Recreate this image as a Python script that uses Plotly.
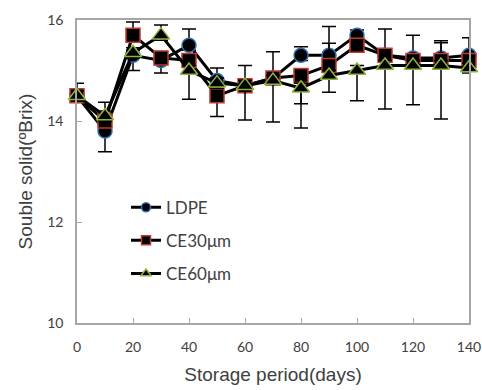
import plotly.graph_objects as go

days = [0, 10, 20, 30, 40, 50, 60, 70, 80, 90, 100, 110, 120, 130, 140]
ldpe = [14.5, 13.8, 15.3, 15.2, 15.5, 14.8, 14.7, 14.85, 15.3, 15.3, 15.7, 15.3, 15.25, 15.25, 15.3]
ce30 = [14.5, 14.0, 15.7, 15.25, 15.2, 14.5, 14.7, 14.85, 14.9, 15.1, 15.5, 15.3, 15.2, 15.2, 15.2]
ce60 = [14.5, 14.1, 15.35, 15.7, 15.0, 14.75, 14.7, 14.8, 14.65, 14.9, 15.0, 15.1, 15.1, 15.1, 15.05]

ldpe_err_up = [0.25, 0.35, 0.1, 0.1, 0.32, 0.25, 0.4, 0.52, 0.17, 0.57, 0.1, 0.52, 0.45, 0.34, 0.35]
ldpe_err_down = [0.1, 0.41, 0.3, 0.25, 0.1, 0.1, 0.1, 0.1, 0.1, 0.1, 0.1, 0.1, 0.1, 0.1, 0.1]
ce30_err_up = [0.1, 0.37, 0.26, 0.1, 0.1, 0.1, 0.1, 0.1, 0.1, 0.44, 0.1, 0.1, 0.1, 0.35, 0.1]
ce30_err_down = [0.1, 0.1, 0.1, 0.1, 0.1, 0.41, 0.1, 0.1, 0.56, 0.1, 0.1, 0.1, 0.1, 0.1, 0.1]
ce60_err_up = [0.1, 0.1, 0.1, 0.2, 0.1, 0.1, 0.1, 0.1, 0.1, 0.1, 0.1, 0.1, 0.1, 0.1, 0.1]
ce60_err_down = [0.1, 0.1, 0.1, 0.1, 0.57, 0.1, 0.68, 0.82, 0.79, 0.33, 0.6, 0.86, 0.78, 1.06, 0.1]

series = [
    ("LDPE", ldpe, ldpe_err_up, ldpe_err_down, "circle", "#2f6fb5", 14),
    ("CE30μm", ce30, ce30_err_up, ce30_err_down, "square", "#c0392b", 14),
    ("CE60μm", ce60, ce60_err_up, ce60_err_down, "triangle-up", "#8db33a", 15),
]

fig = go.Figure()
for name, vals, eu, ed, sym, edge, size in series:
    fig.add_trace(go.Scatter(
        x=days, y=vals, mode="lines+markers", name=name, showlegend=False,
        line=dict(color="black", width=3),
        marker=dict(symbol=sym, size=size, color="black", line=dict(color=edge, width=1.5)),
        error_y=dict(type="data", symmetric=False, array=eu, arrayminus=ed, visible=True,
                     color="black", thickness=1.5, width=7),
        cliponaxis=False,
    ))
for name, vals, eu, ed, sym, edge, size in series:
    fig.add_trace(go.Scatter(
        x=[None], y=[None], mode="lines+markers", name=name, legendgroup=name,
        line=dict(color="black", width=3),
        marker=dict(symbol=sym, size=9, color="black", line=dict(color=edge, width=1.5)),
    ))

axis_common = dict(
    showline=True, linecolor="#a6a6a6", linewidth=1.5, mirror=True,
    ticks="inside", ticklen=5, tickcolor="#a6a6a6", showgrid=False, zeroline=False,
    tickfont=dict(family="Lato", size=14, color="#404040"), automargin=False,
)
fig.update_xaxes(range=[0, 140], dtick=20, tick0=0, ticklabelstandoff=10,
                 title=dict(text="Storage period(days)", font=dict(family="Liberation Sans", size=19, color="#404040"), standoff=14),
                 **axis_common)
fig.update_yaxes(range=[10, 16], dtick=2, tick0=10, ticklabelstandoff=9,
                 title=dict(text="Souble solid(ºBrix)", font=dict(family="Liberation Sans", size=19, color="#404040"), standoff=10),
                 **axis_common)

fig.update_layout(
    width=482, height=390,
    margin=dict(l=77, r=13, t=20, b=67),
    plot_bgcolor="white", paper_bgcolor="white",
    legend=dict(x=0.125, y=0.44, xanchor="left", yanchor="top",
                traceorder="grouped", tracegroupgap=8,
                font=dict(family="Lato", size=17, color="#404040"),
                bgcolor="rgba(0,0,0,0)"),
)
fig.write_html("out.html")
